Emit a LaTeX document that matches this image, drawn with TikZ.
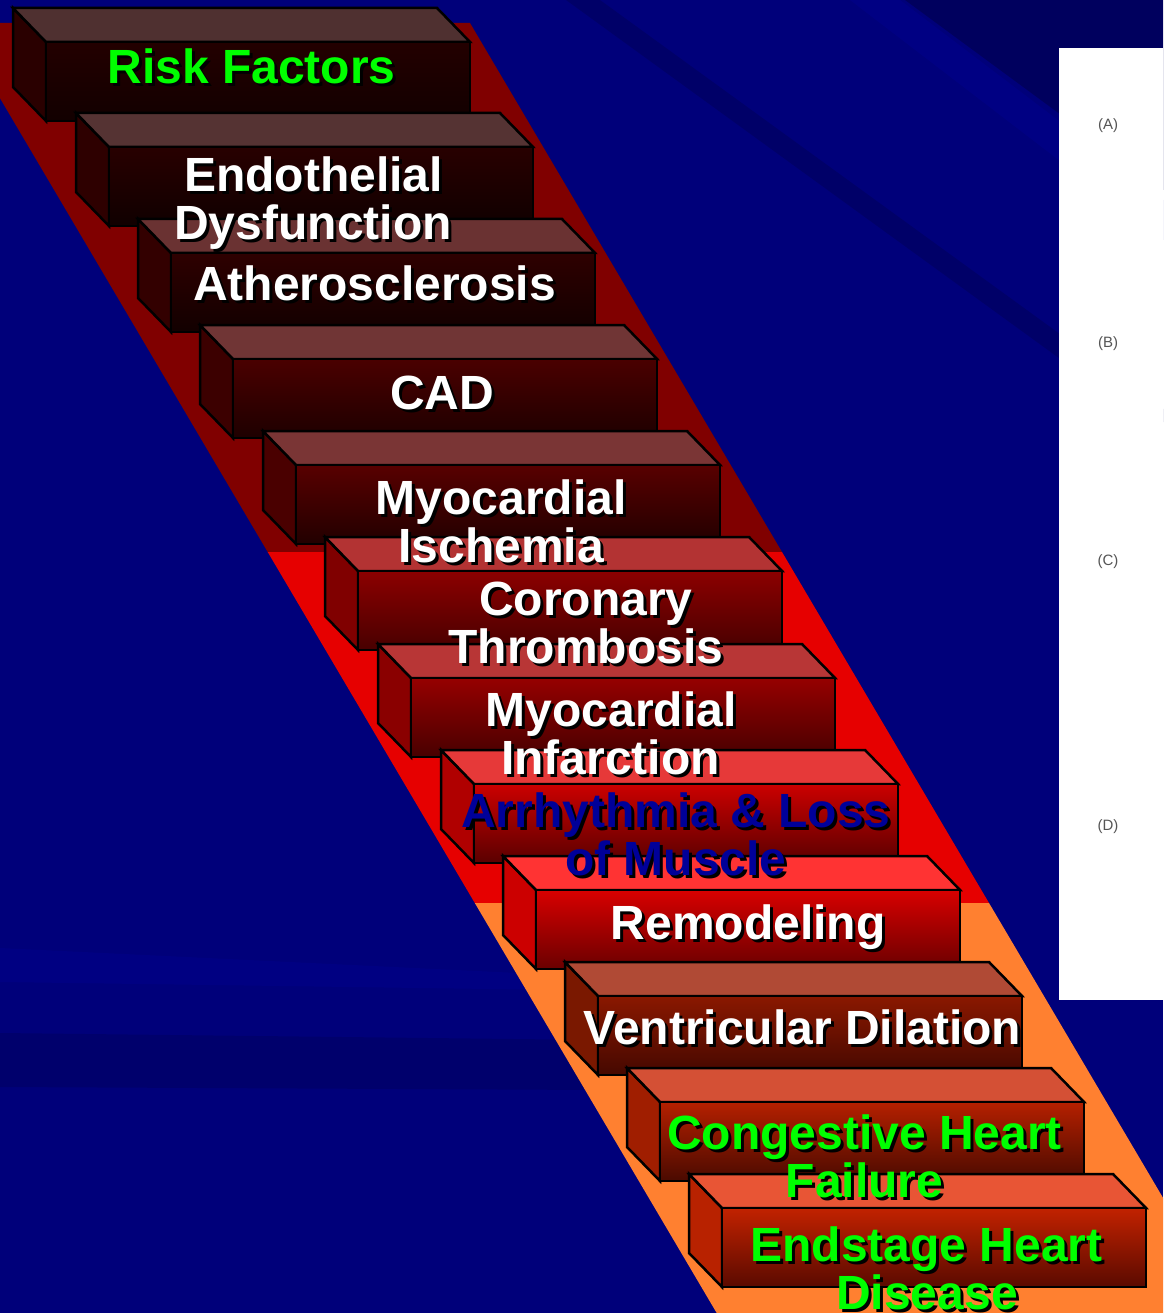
\documentclass[tikz,border=0pt]{standalone}
\usepackage{fontspec}
\setmainfont{Liberation Sans}

\definecolor{bgblue}{HTML}{00007A}
\definecolor{streakdark}{HTML}{000058}
\definecolor{streaklight}{HTML}{00009A}
\definecolor{bandmaroon}{HTML}{800000}
\definecolor{bandred}{HTML}{E60000}
\definecolor{bandorange}{HTML}{FF8030}
\definecolor{tgreen}{HTML}{00FF00}
\definecolor{tblue}{HTML}{000099}
\definecolor{panelgray}{HTML}{555555}

% text with a dark drop shadow
\newcommand\shadowtext[1]{\makebox[0pt][l]{\hspace{3pt}\raisebox{-3pt}{\color{black}#1}}#1}

\tikzset{
    face/.style={draw=black, line width=2.5pt, line join=miter},
    frontface/.style={face, rectangle, minimum width=424pt, minimum height=79pt,
        anchor=north west, inner sep=0pt, outer sep=0pt},
    lbl/.style={font=\fontsize{48}{48}\selectfont\bfseries, anchor=base, inner sep=0pt},
    panellbl/.style={font=\fontsize{15}{15}\selectfont, text=panelgray, inner sep=0pt}
}

\begin{document}
\begin{tikzpicture}[x=1pt, y=-1pt]
    % Fix the page size
    \useasboundingbox (0,0) rectangle (1163,1313);
    \clip (0,0) rectangle (1163,1313);

    % Draw the blue background
    \fill[bgblue] (0,0) rectangle (1163,1313);
    \fill[streakdark, opacity=0.5] (566,0) -- (600,0) -- (1181,422) -- (1147,422) -- cycle;
    \fill[streakdark, opacity=0.8] (905,0) -- (1163,0) -- (1163,190) -- cycle;
    \fill[streaklight, opacity=0.3] (850,0) -- (900,0) -- (1163,200) -- (1163,240) -- cycle;
    \fill[streakdark, opacity=0.4] (0,1033) -- (600,1040) -- (600,1090) -- (0,1087) -- cycle;
    \fill[streaklight, opacity=0.25] (0,948) -- (560,975) -- (560,990) -- (0,982) -- cycle;

    % Draw the coloured band
    \fill[bandmaroon] (-44.4,23) -- (470,23) -- (782,552) -- (267.7,552) -- cycle;
    \fill[bandred] (267.7,552) -- (782,552) -- (989,903) -- (474.8,903) -- cycle;
    \fill[bandorange] (474.8,903) -- (989,903) -- (1231,1313) -- (716.7,1313) -- cycle;

    % Draw the white panel
    \fill[white] (1059,48) rectangle (1163,1000);
    \node[panellbl] (pa) at (1108,126) {(A)};
    \node[panellbl] (pb) at (1108,344) {(B)};
    \node[panellbl] (pc) at (1108,562) {(C)};
    \node[panellbl] (pd) at (1108,827) {(D)};

    % Draw the steps
    \foreach \n/\x/\y/\tp/\sd/\fa/\fb in {
        1/46/42/4F3030/2A0000/230000/120000,
        2/109/147/553333/2E0000/280000/100000,
        3/171/253/6A3232/330000/2E0000/120000,
        4/233/359/703535/3C0000/4A0000/1E0000,
        5/296/465/7A3535/4A0000/580000/220000,
        6/358/571/B33333/800000/8C0000/480000,
        7/411/678/B83636/8A0000/960000/480000,
        8/474/784/E63939/B00000/CC0000/5A0000,
        9/536/890/FF3333/CC0000/D80000/6A0000,
        10/598/996/B04A35/7A1800/8A1800/450800,
        11/660/1102/D45035/A01E00/B52000/4A0A00,
        12/722/1208/E85535/B82200/C22200/5A0A00}{
        \definecolor{tp}{HTML}{\tp}
        \definecolor{sd}{HTML}{\sd}
        \definecolor{fa}{HTML}{\fa}
        \definecolor{fb}{HTML}{\fb}
        \filldraw[face, fill=sd] (\x,\y) -- ++(-33,-34) -- ++(0,79) -- ++(33,34) -- cycle;
        \filldraw[face, fill=tp] (\x,\y) -- ++(-33,-34) -- ++(424,0) -- ++(33,34) -- cycle;
        \node[frontface, top color=fa, bottom color=fb] (b\n) at (\x,\y) {};
    }

    % Write the labels
    \foreach \n/\x/\y/\c/\t in {
        1/251.5/84/tgreen/Risk Factors,
        2a/313.5/192/white/Endothelial,
        2b/313/240/white/Dysfunction,
        3/374.5/301/white/Atherosclerosis,
        4/442/409/white/CAD,
        5a/501/514/white/Myocardial,
        5b/501/562/white/Ischemia,
        6a/586/615/white/Coronary,
        6b/586/663/white/Thrombosis,
        7a/611/726/white/Myocardial,
        7b/610.5/774/white/Infarction,
        8a/676/827/tblue/Arrhythmia \& Loss,
        8b/676/875/tblue/of Muscle,
        9/748/939/white/Remodeling,
        10/802.5/1044/white/Ventricular Dilation,
        11a/864.5/1149/tgreen/Congestive Heart,
        11b/864.5/1197/tgreen/Failure,
        12a/926.5/1261/tgreen/Endstage Heart,
        12b/927/1309/tgreen/Disease}{
        \node[lbl, text=\c] (t\n) at (\x,\y) {\shadowtext{\t}};
    }
\end{tikzpicture}
\end{document}
